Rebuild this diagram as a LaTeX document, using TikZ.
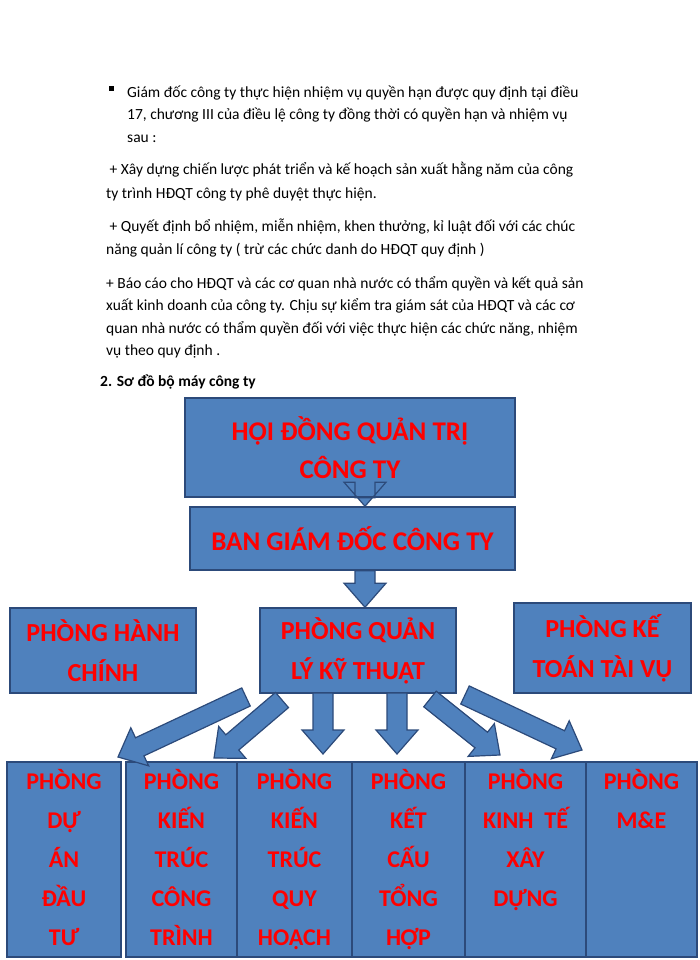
\documentclass[tikz,border=0pt]{standalone}
\usepackage{fontspec}
\setmainfont{Carlito}
\usetikzlibrary{calc}
\definecolor{boxblue}{RGB}{79,129,189}
\definecolor{boxedge}{RGB}{44,74,122}
\definecolor{boxred}{RGB}{255,0,0}
\tikzset{
  unit/.style={draw=boxedge,fill=boxblue,line width=1.5pt,inner sep=0pt},
  unittext/.style={text=boxred,font=\fontsize{24}{39}\selectfont\bfseries,align=center},
  para/.style={anchor=base west,inner sep=0pt,font=\fontsize{15.5}{18}\selectfont},
  blockarrow/.style={draw=boxedge,fill=boxblue,line width=1.2pt,line join=miter}
}
\newcommand\blockarrow[2]{%
  \path let \p1=($(#2)-(#1)$), \n1={atan2(\y1,\x1)}, \n2={veclen(\x1,\y1)} in
    \pgfextra{\xdef\arrang{\n1}\xdef\arrlen{\n2}};
  \begin{scope}[shift={(#1)},rotate=\arrang]
    \draw[blockarrow](0pt,10pt)--(\arrlen-24pt,10pt)--(\arrlen-24pt,21pt)--(\arrlen,0pt)
      --(\arrlen-24pt,-21pt)--(\arrlen-24pt,-10pt)--(0pt,-10pt)--cycle;
  \end{scope}}
\begin{document}
\begin{tikzpicture}[x=1pt,y=-1pt]
\useasboundingbox (0,0) rectangle (700,960);
\fill[white](0,0) rectangle (700,960);

% text above the chart
\node(bul)[fill=black,minimum size=5pt,inner sep=0pt] at (111,89){};
\node[para] at (127,98){Giám đốc công ty thực hiện nhiệm vụ quyền hạn được quy định tại điều};
\node[para] at (127,120){17, chương III của điều lệ công ty đồng thời có quyền hạn và nhiệm vụ};
\node[para] at (127,143){sau :};
\node[para] at (106,175){\ + Xây dựng chiến lược phát triển và kế hoạch sản xuất hằng năm của công};
\node[para] at (106,198){ty trình HĐQT công ty phê duyệt thực hiện.};
\node[para] at (106,231){\ + Quyết định bổ nhiệm, miễn nhiệm, khen thưởng, kỉ luật đối với các chúc};
\node[para] at (106,254){năng quản lí công ty ( trừ các chức danh do HĐQT quy định )};
\node[para] at (106,288){+ Báo cáo cho HĐQT và các cơ quan nhà nước có thẩm quyền và kết quả sản};
\node[para] at (106,310){xuất kinh doanh của công ty. Chịu sự kiểm tra giám sát của HĐQT và các cơ};
\node[para] at (106,333){quan nhà nước có thẩm quyền đối với việc thực hiện các chức năng, nhiệm};
\node[para] at (106,355){vụ theo quy định .};
\node[para,font=\fontsize{15.5}{18}\selectfont\bfseries] at (100,386){2. Sơ đồ bộ máy công ty};

% upper boxes
\node(hdqt)[unit,minimum width=330pt,minimum height=99pt] at (350,447.5){};
\node[unittext,font=\fontsize{27}{38}\selectfont\bfseries] at (hdqt){HỘI ĐỒNG QUẢN TRỊ\\CÔNG TY};
\node(bgd)[unit,minimum width=325pt,minimum height=63pt] at (352.5,538.5){};
\node[unittext,font=\fontsize{27}{38}\selectfont\bfseries] at (bgd){BAN GIÁM ĐỐC CÔNG TY};
\node(qlkt)[unit,minimum width=196pt,minimum height=85pt] at (358,650.5){};
\node[unittext,font=\fontsize{26}{40}\selectfont\bfseries] at (qlkt){PHÒNG QUẢN\\LÝ KỸ THUẬT};
\node(hc)[unit,minimum width=186pt,minimum height=85pt] at (103,650.5){};
\node[unittext,font=\fontsize{26}{40}\selectfont\bfseries] at (hc){PHÒNG HÀNH\\CHÍNH};
\node(ktv)[unit,minimum width=177pt,minimum height=90pt] at (602.5,648){};
\node[unittext,font=\fontsize{26}{40}\selectfont\bfseries] at (ktv){PHÒNG KẾ\\TOÁN TÀI VỤ};

% lower boxes
\foreach \l/\r/\txt[count=\i] in {7/121/{PHÒNG\\DỰ\\ÁN\\ĐẦU\\TƯ},126/237/{PHÒNG\\KIẾN\\TRÚC\\CÔNG\\TRÌNH},
  237/352/{PHÒNG\\KIẾN\\TRÚC\\QUY\\HOẠCH},352/465/{PHÒNG\\KẾT\\CẤU\\TỔNG\\HỢP},
  465/586/{PHÒNG\\KINH\ \ TẾ\\XÂY\\DỰNG},586/697/{PHÒNG\\M\&E}}
{\draw[unit](\l,762) rectangle coordinate(c\i) (\r,957);
 \node[unittext,anchor=north] at (c\i|-0,766){\txt};}

% arrows
\coordinate(a0) at (365,497); \coordinate(a1) at (365,608);
\blockarrow{$(hdqt.south)+(15,0)$}{$(bgd.north)+(12.5,0)$}
\blockarrow{$(bgd.south)+(12.5,0)$}{$(qlkt.north)+(7,0)$}
\coordinate(s1) at (246,697); \coordinate(t1) at (118,757);
\coordinate(s2) at (282,700); \coordinate(t2) at (214,758);
\coordinate(s3) at (323,693); \coordinate(t3) at (323,754);
\coordinate(s4) at (397,693); \coordinate(t4) at (397,754);
\coordinate(s5) at (430,699); \coordinate(t5) at (500,755);
\coordinate(s6) at (465,695); \coordinate(t6) at (582,750);
\foreach \i in {1,...,6}{\blockarrow{s\i}{t\i}}
\end{tikzpicture}
\end{document}
